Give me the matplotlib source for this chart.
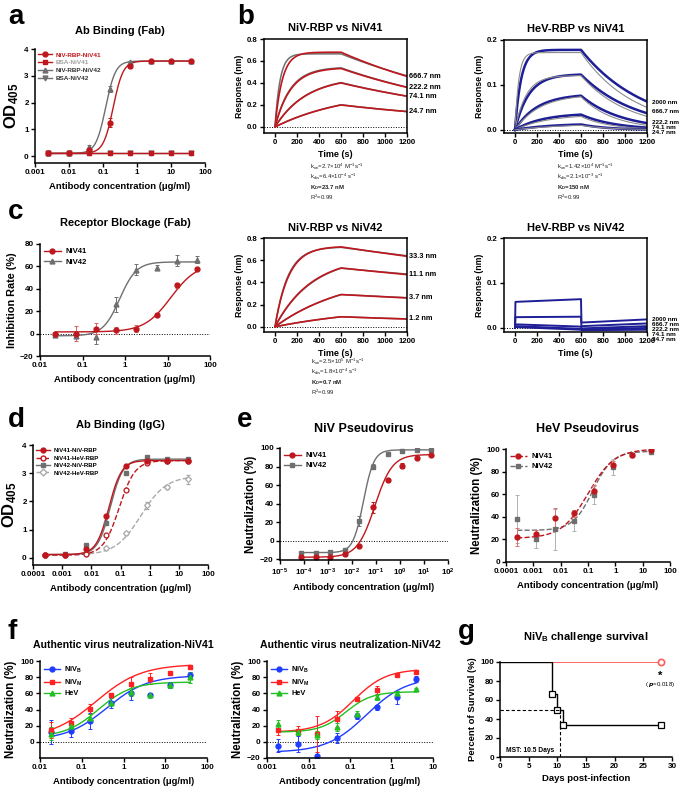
import numpy as np
import matplotlib
matplotlib.use("Agg")
import matplotlib.pyplot as plt
from matplotlib.lines import Line2D
from matplotlib.ticker import NullLocator, FormatStrFormatter

plt.rcParams["font.family"] = ["Liberation Sans", "DejaVu Sans"]
plt.rcParams["font.weight"] = "bold"
plt.rcParams["axes.labelweight"] = "bold"
plt.rcParams["mathtext.default"] = "regular"

RED = "#BE171D"
GRAY = "#6F6F6F"
LGRAY = "#A9A9A9"
NAVY = "#1E1E96"
BLUE = "#1F3CFF"
REDF = "#FF2222"
GREEN = "#22C022"
SURV_RED = "#FF5C5C"

# ---- a: Ab binding (Fab) ----
conc_a = [0.0024, 0.0098, 0.039, 0.156, 0.625, 2.5, 10, 40]
od_a_niv41 = [0.1, 0.1, 0.22, 1.25, 3.38, 3.55, 3.55, 3.55]
err_a_niv41 = [0.02, 0.02, 0.05, 0.18, 0.08, 0.05, 0.03, 0.03]
od_a_bsa41 = [0.1, 0.1, 0.1, 0.1, 0.1, 0.1, 0.1, 0.1]
od_a_niv42 = [0.1, 0.1, 0.35, 2.5, 3.5, 3.55, 3.55, 3.55]
err_a_niv42 = [0.02, 0.02, 0.08, 0.1, 0.05, 0.03, 0.03, 0.03]
od_a_bsa42 = [0.1, 0.1, 0.1, 0.1, 0.1, 0.1, 0.1, 0.1]
fit_a_niv41 = (0.1, 3.55, 0.2, 3.0)
fit_a_niv42 = (0.1, 3.55, 0.12, 3.0)

# ---- b: BLI sensorgrams (req, kobs, value at 1200 s) ----
b1_labels = ["666.7 nm", "222.2 nm", "74.1 nm", "24.7 nm"]
b1_label_y = [0.46, 0.36, 0.28, 0.14]
b1_req = [0.68, 0.54, 0.456, 0.337]
b1_kobs = [0.015, 0.007, 0.0035, 0.0015]
b1_end = [0.46, 0.36, 0.28, 0.14]
b1_fit_req = [0.665, 0.545, 0.46, 0.34]
b1_fit_kobs = [0.022, 0.0072, 0.0035, 0.0015]
b1_fit_end = [0.465, 0.362, 0.28, 0.14]

b2_labels = ["2000 nm", "666.7 nm", "222.2 nm", "74.1 nm", "24.7 nm"]
b2_label_y = [0.06, 0.04, 0.017, 0.005, -0.006]
b2_req = [0.178, 0.124, 0.08, 0.0374, 0.0144]
b2_kobs = [0.018, 0.008, 0.005, 0.004, 0.003]
b2_end = [0.063, 0.037, 0.015, 0.005, 0.001]
b2_fit_req = [0.172, 0.121, 0.079, 0.034, 0.013]
b2_fit_kobs = [0.03, 0.01, 0.0045, 0.0035, 0.0025]
b2_fit_end = [0.05, 0.03, 0.01, 0.003, 0.001]

b3_labels = ["33.3 nm", "11.1 nm", "3.7 nm", "1.2 nm"]
b3_label_y = [0.635, 0.47, 0.26, 0.075]
b3_req = [0.726, 0.635, 0.489, 0.2]
b3_kobs = [0.008, 0.003, 0.0015, 0.001]
b3_end = [0.635, 0.47, 0.26, 0.07]
b3_fit_req = [0.72, 0.64, 0.49, 0.2]
b3_fit_kobs = [0.0085, 0.0029, 0.0015, 0.001]
b3_fit_end = [0.64, 0.475, 0.262, 0.071]

# HeV-RBP vs NiV42: [start of assoc, end of assoc, start of dissoc, end]
b4_labels = ["2000 nm", "666.7 nm", "222.2 nm", "74.1 nm", "24.7 nm"]
b4_label_y = [0.019, 0.008, -0.003, -0.014, -0.025]
b4_levels = [
    [0.058, 0.064, 0.012, 0.019],
    [0.024, 0.025, 0.004, 0.010],
    [0.008, 0.003, -0.001, 0.004],
    [0.004, -0.002, -0.003, 0.000],
    [0.002, -0.004, -0.005, -0.004],
]

# ---- c: receptor blockage ----
conc_c = [0.023, 0.069, 0.21, 0.62, 1.85, 5.6, 16.7, 50]
inh_c_niv41 = [0, 0, 4.5, 3, 4.5, 17, 43, 58]
err_c_niv41 = [1.5, 7, 5, 3, 3, 1, 2.5, 1]
inh_c_niv42 = [-1, -2, -3, 26, 57, 59, 65, 66]
err_c_niv42 = [1, 1, 6, 7, 5, 2, 5, 3]
fit_c_niv41 = (1.5, 63, 12.0, 1.4)
fit_c_niv42 = (-2, 64, 0.75, 2.2)

# ---- d: Ab binding (IgG) ----
conc_d = [0.000256, 0.00128, 0.0064, 0.032, 0.16, 0.8, 4, 20]
od_d_41niv = [0.1, 0.12, 0.3, 1.47, 3.25, 3.42, 3.45, 3.45]
od_d_41hev = [0.1, 0.1, 0.15, 0.82, 2.4, 3.38, 3.45, 3.45]
od_d_42niv = [0.1, 0.15, 0.45, 1.25, 3.0, 3.58, 3.5, 3.5]
od_d_42hev = [0.1, 0.1, 0.15, 0.35, 0.87, 1.87, 2.52, 2.78]
err_d_42hev = [0.02, 0.02, 0.03, 0.05, 0.06, 0.12, 0.08, 0.15]
fit_d_41niv = (0.12, 3.45, 0.04, 2.0)
fit_d_41hev = (0.1, 3.45, 0.09, 1.6)
fit_d_42niv = (0.12, 3.5, 0.045, 2.0)
fit_d_42hev = (0.1, 2.9, 0.5, 1.0)

# ---- e: pseudovirus neutralization ----
conc_e1 = [7.6e-5, 3.05e-4, 1.22e-3, 4.9e-3, 0.0195, 0.078, 0.3125, 1.25, 5, 20]
neu_e1_niv41 = [-18, -18, -17.5, -15, -6, 36, 65, 81, 89, 92.5]
err_e1_niv41 = [1, 1, 1, 2, 1, 6, 2, 3, 1, 1]
neu_e1_niv42 = [-13, -13, -12, -10, 21, 80, 93, 97, 98, 98]
err_e1_niv42 = [1, 1, 1, 2, 5, 3, 1, 1, 1, 1]
fit_e1_niv41 = (-18, 93, 0.09, 1.2)
fit_e1_niv42 = (-13, 98, 0.03, 2.0)

conc_e2 = [0.000256, 0.00128, 0.0064, 0.032, 0.16, 0.8, 4, 20]
neu_e2_niv41 = [22, 24.5, 39, 43, 63, 86, 95, 99]
err_e2_niv41 = [8, 4, 9, 3, 5, 3, 1, 1]
neu_e2_niv42 = [38, 20, 29, 36, 59, 84, 95, 97]
err_e2_niv42 = [21, 8, 18, 9, 8, 7, 1, 1]
fit_e2_niv41 = (21, 100, 0.1, 0.9)
fit_e2_niv42 = (28, 98, 0.15, 1.2)

# ---- f: authentic virus neutralization ----
conc_f1 = [0.018, 0.055, 0.16, 0.49, 1.48, 4.4, 13.3, 40]
neu_f1_nivb = [12, 14, 26, 48, 61, 58, 70, 83]
err_f1_nivb = [15, 8, 10, 6, 9, 3, 4, 4]
neu_f1_nivm = [15, 23, 41, 58, 71, 78, 85, 92]
err_f1_nivm = [10, 6, 6, 2, 9, 7, 2, 2]
neu_f1_hev = [10, 20, 29, 48, 62, 58, 70, 80]
err_f1_hev = [8, 5, 6, 3, 5, 3, 3, 7]
fit_f1_nivb = (2, 82, 0.4, 0.9)
fit_f1_nivm = (4, 96, 0.22, 0.8)
fit_f1_hev = (6, 74, 0.25, 1.1)

conc_f2 = [0.0018, 0.0055, 0.016, 0.049, 0.148, 0.44, 1.33, 4]
neu_f2_nivb = [-5, -3, -17, 5, 32, 43, 55, 78]
err_f2_nivb = [8, 10, 12, 6, 4, 3, 8, 4]
neu_f2_nivm = [15, 14, 10, 28, 53, 64, 83, 87]
err_f2_nivm = [6, 5, 22, 10, 3, 5, 1, 2]
neu_f2_hev = [22, 12, 8, 18, 35, 55, 60, 65]
err_f2_hev = [5, 4, 5, 5, 3, 3, 3, 2]
fit_f2_nivb = (-13, 80, 0.25, 0.9)
fit_f2_nivm = (12, 90, 0.12, 1.1)
fit_f2_hev = (12, 62, 0.08, 1.4)

# ---- g: survival ----
days_ctrl = [0, 9, 10, 11, 28]
surv_ctrl = [100, 66.7, 50, 33.3, 33.3]
days_ab = [0, 28]
surv_ab = [100, 100]
mst_day = 10.5


def logistic(x, bottom, top, ec50, hill):
    return bottom + (top - bottom) / (1 + (ec50 / x) ** hill)


def sensorgram(t, req, kobs, r_end):
    r600 = req * (1 - np.exp(-kobs * 600))
    kd = np.log(r600 / r_end) / 600
    return np.where(t <= 600, req * (1 - np.exp(-kobs * t)),
                    r600 * np.exp(-kd * (t - 600)))


def box(x0, y0, x1, y1):
    return [x0 / 683, 1 - y1 / 800, (x1 - x0) / 683, (y1 - y0) / 800]


def prism(ax, full_box=False):
    for side in ["top", "right"]:
        ax.spines[side].set_visible(full_box)
    for s in ax.spines.values():
        s.set_linewidth(1.1)
    ax.tick_params(width=1.0, length=3, labelsize=5.8, pad=1.5)
    ax.set_facecolor("none")


def log_ticks(ax, ticks, labels):
    ax.set_xscale("log")
    ax.set_xticks(ticks, labels)
    ax.xaxis.set_minor_locator(NullLocator())


def title(ax, text, y, size=8):
    pos = ax.get_position()
    fig.text(pos.x0 + pos.width / 2, 1 - y / 800, text, ha="center",
             va="center", fontsize=size, fontweight="bold")


def letter(text, x, y):
    fig.text(x / 683, 1 - y / 800, text, ha="left", va="center",
             fontsize=20, fontweight="bold")


def handle(color, marker, ls="-", mfc=None):
    return Line2D([], [], color=color, marker=marker, ls=ls, lw=1.0, ms=3.5,
                  mfc=mfc if mfc else color)


def small_legend(ax, handles, labels, size=5.0, **kw):
    leg = ax.legend(handles, labels, loc="upper left", frameon=False,
                    fontsize=size, handlelength=2.2, labelspacing=0.35,
                    borderaxespad=0.1, handletextpad=0.6, **kw)
    return leg


def zero_line(ax):
    ax.axhline(0, color="black", lw=0.7, ls=(0, (1, 1.6)), zorder=0)


EB = dict(capsize=1.6, elinewidth=0.7, capthick=0.7, ls="none", ms=3.5)

fig = plt.figure(figsize=(6.83, 8.0), dpi=100)

# ================= a =================
ax = fig.add_axes(box(35, 49, 205, 163))
prism(ax)
xs = np.logspace(np.log10(0.0024), np.log10(40), 300)
ax.plot(xs, logistic(xs, *fit_a_niv42), color=GRAY, lw=1)
ax.plot(xs, logistic(xs, *fit_a_niv41), color=RED, lw=1)
ax.plot(conc_a, od_a_bsa42, color=GRAY, lw=1, marker="v", ms=3.5)
ax.plot(conc_a, od_a_bsa41, color=RED, lw=1, marker="s", ms=3.5)
ax.errorbar(conc_a, od_a_niv42, yerr=err_a_niv42, fmt="^", color=GRAY, **EB)
ax.errorbar(conc_a, od_a_niv41, yerr=err_a_niv41, fmt="o", color=RED, **EB)
log_ticks(ax, [0.001, 0.01, 0.1, 1, 10, 100],
          ["0.001", "0.01", "0.1", "1", "10", "100"])
ax.set_xlim(0.001, 100)
ax.set_ylim(-0.26, 4)
ax.set_yticks([0, 1, 2, 3, 4])
ax.set_xlabel("Antibody concentration (μg/ml)", fontsize=6.8, labelpad=4)
ax.set_ylabel("OD$_{405}$", fontsize=12, labelpad=2)
leg = small_legend(ax, [handle(RED, "o"), handle(RED, "s"), handle(GRAY, "^"),
                        handle(GRAY, "v")],
                   ["NiV-RBP-NiV41", "BSA-NiV41", "NiV-RBP-NiV42", "BSA-NiV42"],
                   size=4.6)
for txt, c in zip(leg.get_texts(), [RED, "#A0A0A0", "#333333", "#333333"]):
    txt.set_color(c)
title(ax, "Ab Binding (Fab)", 31)
letter("a", 8, 17)

# ================= b =================
t = np.linspace(0, 1200, 1201)


def bli_axes(pos, ylim, yticks, ttl, ty):
    ax = fig.add_axes(pos)
    prism(ax, full_box=True)
    ax.set_xlim(-100, 1200)
    ax.set_ylim(*ylim)
    ax.set_xticks([0, 200, 400, 600, 800, 1000, 1200])
    ax.set_yticks(yticks)
    ax.yaxis.set_major_formatter(FormatStrFormatter("%.1f"))
    ax.tick_params(labelsize=5.6)
    zero_line(ax)
    ax.set_xlabel("Time (s)", fontsize=6.5, labelpad=3)
    ax.set_ylabel("Response (nm)", fontsize=6.3, labelpad=2)
    title(ax, ttl, ty)
    return ax


ax = bli_axes(box(264, 39, 407, 133), (-0.055, 0.8), [0.0, 0.2, 0.4, 0.6, 0.8],
              "NiV-RBP vs NiV41", 28)
for i in range(len(b1_labels)):
    ax.plot(t, sensorgram(t, b1_fit_req[i], b1_fit_kobs[i], b1_fit_end[i]),
            color=GRAY, lw=1.1)
    ax.plot(t, sensorgram(t, b1_req[i], b1_kobs[i], b1_end[i]), color=RED, lw=1.2)
    ax.text(1215, b1_label_y[i], b1_labels[i], fontsize=5.3, va="center",
            clip_on=False)
letter("b", 237, 17)

ax = bli_axes(box(504, 40, 647, 133), (-0.007, 0.2), [0.0, 0.1, 0.2],
              "HeV-RBP vs NiV41", 29)
for i in range(len(b2_labels)):
    ax.plot(t, sensorgram(t, b2_req[i], b2_kobs[i], b2_end[i]), color=NAVY, lw=1.8)
    ax.plot(t, sensorgram(t, b2_fit_req[i], b2_fit_kobs[i], b2_fit_end[i]),
            color="#8C8C8C", lw=0.8)
    ax.text(1250, b2_label_y[i], b2_labels[i], fontsize=4.6, va="center",
            clip_on=False)

ax = bli_axes(box(264, 238, 407, 332), (-0.047, 0.8), [0.0, 0.2, 0.4, 0.6, 0.8],
              "NiV-RBP vs NiV42", 228)
for i in range(len(b3_labels)):
    ax.plot(t, sensorgram(t, b3_fit_req[i], b3_fit_kobs[i], b3_fit_end[i]),
            color=GRAY, lw=1.1)
    ax.plot(t, sensorgram(t, b3_req[i], b3_kobs[i], b3_end[i]), color=RED, lw=1.2)
    ax.text(1215, b3_label_y[i], b3_labels[i], fontsize=5.3, va="center",
            clip_on=False)

ax = bli_axes(box(504, 238, 647, 332), (-0.009, 0.2), [0.0, 0.1, 0.2],
              "HeV-RBP vs NiV42", 228)
for i in range(len(b4_labels)):
    lv = b4_levels[i]
    ax.plot([0, 4, 600, 604, 1200], [0, lv[0], lv[1], lv[2], lv[3]],
            color=NAVY, lw=1.4)
    ax.text(1250, b4_label_y[i], b4_labels[i], fontsize=4.6, va="center",
            clip_on=False)

kin_blocks = [
    (310, 167, ["k$_{on}$=2.7×10$^{4}$ M$^{-1}$s$^{-1}$",
                "k$_{dis}$=6.4×10$^{-4}$ s$^{-1}$", "K$_D$=23.7 nM", "R$^2$=0.99"]),
    (557, 167, ["k$_{on}$=1.42×10$^{4}$ M$^{-1}$s$^{-1}$",
                "k$_{dis}$=2.1×10$^{-3}$ s$^{-1}$", "K$_D$=150 nM", "R$^2$=0.99"]),
    (311, 362, ["k$_{on}$=2.5×10$^{5}$ M$^{-1}$s$^{-1}$",
                "k$_{dis}$=1.8×10$^{-4}$ s$^{-1}$", "K$_D$=0.7 nM", "R$^2$=0.99"]),
]
for x0, y0, lines in kin_blocks:
    for j, s in enumerate(lines):
        fig.text(x0 / 683, 1 - (y0 + j * 10.2) / 800, s, fontsize=4.3,
                 fontweight="bold" if j == 2 else "normal", va="center",
                 color="#222222")

# ================= c =================
ax = fig.add_axes(box(40, 244, 210, 356))
prism(ax)
zero_line(ax)
xs = np.logspace(np.log10(0.023), np.log10(50), 300)
ax.plot(xs, logistic(xs, *fit_c_niv42), color=GRAY, lw=1)
ax.plot(xs, logistic(xs, *fit_c_niv41), color=RED, lw=1)
ax.errorbar(conc_c, inh_c_niv42, yerr=err_c_niv42, fmt="^", color=GRAY, **EB)
ax.errorbar(conc_c, inh_c_niv41, yerr=err_c_niv41, fmt="o", color=RED,
            ecolor="#E06060", **EB)
log_ticks(ax, [0.01, 0.1, 1, 10, 100], ["0.01", "0.1", "1", "10", "100"])
ax.set_xlim(0.01, 100)
ax.set_ylim(-20, 80)
ax.set_yticks([-20, 0, 20, 40, 60, 80])
ax.set_xlabel("Antibody concentration (μg/ml)", fontsize=6.8, labelpad=4)
ax.set_ylabel("Inhibition Rate (%)", fontsize=7.8, labelpad=2)
small_legend(ax, [handle(RED, "o"), handle(GRAY, "^")], ["NiV41", "NiV42"],
             size=5.6)
title(ax, "Receptor Blockage (Fab)", 223)
letter("c", 8, 212)

# ================= d =================
ax = fig.add_axes(box(33, 445, 208, 565))
prism(ax)
xs = np.logspace(np.log10(0.000256), np.log10(20), 300)
ax.plot(xs, logistic(xs, *fit_d_42hev), color=LGRAY, lw=1, ls="--")
ax.plot(xs, logistic(xs, *fit_d_41hev), color=RED, lw=1, ls="--")
ax.plot(xs, logistic(xs, *fit_d_42niv), color=GRAY, lw=1)
ax.plot(xs, logistic(xs, *fit_d_41niv), color=RED, lw=1)
ax.errorbar(conc_d, od_d_42hev, yerr=err_d_42hev, fmt="D", color=LGRAY,
            mfc="white", mew=0.9, **dict(EB, ms=3))
ax.errorbar(conc_d, od_d_42niv, yerr=[0.03] * 8, fmt="s", color=GRAY, **EB)
ax.errorbar(conc_d, od_d_41hev, yerr=[0.03] * 8, fmt="o", color=RED,
            mfc="white", mew=0.9, **EB)
ax.errorbar(conc_d, od_d_41niv, yerr=[0.03] * 8, fmt="o", color=RED, **EB)
log_ticks(ax, [0.0001, 0.001, 0.01, 0.1, 1, 10, 100],
          ["0.0001", "0.001", "0.01", "0.1", "1", "10", "100"])
ax.set_xlim(0.0001, 100)
ax.set_ylim(-0.25, 4)
ax.set_yticks([0, 1, 2, 3, 4])
ax.set_xlabel("Antibody concentration (μg/ml)", fontsize=6.8, labelpad=4)
ax.set_ylabel("OD$_{405}$", fontsize=12, labelpad=2)
small_legend(ax, [handle(RED, "o"), handle(RED, "o", "--", "white"),
                  handle(GRAY, "s"), handle(LGRAY, "D", "--", "white")],
             ["NiV41-NiV-RBP", "NiV41-HeV-RBP", "NiV42-NiV-RBP", "NiV42-HeV-RBP"],
             size=4.4)
title(ax, "Ab Binding (IgG)", 425)
letter("d", 8, 420)

# ================= e =================
ax = fig.add_axes(box(280, 448, 448, 560))
prism(ax)
zero_line(ax)
xs = np.logspace(np.log10(7.6e-5), np.log10(20), 300)
ax.plot(xs, logistic(xs, *fit_e1_niv42), color=GRAY, lw=1)
ax.plot(xs, logistic(xs, *fit_e1_niv41), color=RED, lw=1)
ax.errorbar(conc_e1, neu_e1_niv42, yerr=err_e1_niv42, fmt="s", color=GRAY, **EB)
ax.errorbar(conc_e1, neu_e1_niv41, yerr=err_e1_niv41, fmt="o", color=RED, **EB)
log_ticks(ax, [1e-5, 1e-4, 1e-3, 1e-2, 1e-1, 1, 10, 100],
          ["10$^{-5}$", "10$^{-4}$", "10$^{-3}$", "10$^{-2}$", "10$^{-1}$",
           "10$^{0}$", "10$^{1}$", "10$^{2}$"])
ax.set_xlim(1e-5, 100)
ax.set_ylim(-21, 100)
ax.set_yticks([-20, 0, 20, 40, 60, 80, 100])
ax.set_xlabel("Antibody concentration (μg/ml)", fontsize=6.8, labelpad=4)
ax.set_ylabel("Neutralization (%)", fontsize=8.3, labelpad=2)
small_legend(ax, [handle(RED, "o"), handle(GRAY, "s")], ["NiV41", "NiV42"],
             size=5.6)
title(ax, "NiV Pseudovirus", 429, size=9)
letter("e", 237, 420)

ax = fig.add_axes(box(506, 449, 670, 562))
prism(ax)
xs = np.logspace(np.log10(0.000256), np.log10(20), 300)
ax.plot(xs, logistic(xs, *fit_e2_niv42), color=GRAY, lw=1, ls="--")
ax.plot(xs, logistic(xs, *fit_e2_niv41), color=RED, lw=1, ls="--")
ax.errorbar(conc_e2, neu_e2_niv42, yerr=err_e2_niv42, fmt="s", color=GRAY,
            ecolor="#B0B0B0", **EB)
ax.errorbar(conc_e2, neu_e2_niv41, yerr=err_e2_niv41, fmt="o", color=RED,
            ecolor="#E07070", **EB)
log_ticks(ax, [0.0001, 0.001, 0.01, 0.1, 1, 10, 100],
          ["0.0001", "0.001", "0.01", "0.1", "1", "10", "100"])
ax.set_xlim(0.0001, 100)
ax.set_ylim(0, 100)
ax.set_yticks([0, 20, 40, 60, 80, 100])
ax.set_xlabel("Antibody concentration (μg/ml)", fontsize=6.8, labelpad=4)
ax.set_ylabel("Neutralization (%)", fontsize=8.3, labelpad=2)
small_legend(ax, [handle(RED, "o", "--"), handle(GRAY, "s", "--")],
             ["NiV41", "NiV42"], size=5.6)
title(ax, "HeV Pseudovirus", 429, size=9)

# ================= f =================
f_names = ["NiV$_B$", "NiV$_M$", "HeV"]
f_colors = [BLUE, REDF, GREEN]
f_markers = ["o", "s", "^"]

ax = fig.add_axes(box(40, 661, 207, 758))
prism(ax)
zero_line(ax)
xs = np.logspace(np.log10(0.018), np.log10(40), 300)
for fit, vals, err, c, m in zip([fit_f1_nivb, fit_f1_nivm, fit_f1_hev],
                                [neu_f1_nivb, neu_f1_nivm, neu_f1_hev],
                                [err_f1_nivb, err_f1_nivm, err_f1_hev],
                                f_colors, f_markers):
    ax.plot(xs, logistic(xs, *fit), color=c, lw=1)
    ax.errorbar(conc_f1, vals, yerr=err, fmt=m, color=c, **EB)
log_ticks(ax, [0.01, 0.1, 1, 10, 100], ["0.01", "0.1", "1", "10", "100"])
ax.set_xlim(0.01, 100)
ax.set_ylim(-20, 100)
ax.set_yticks([0, 20, 40, 60, 80, 100])
ax.set_xlabel("Antibody concentration (μg/ml)", fontsize=6.8, labelpad=4)
ax.set_ylabel("Neutralization (%)", fontsize=8.3, labelpad=2)
small_legend(ax, [handle(c, m) for c, m in zip(f_colors, f_markers)], f_names,
             size=5.3)
title(ax, "Authentic virus neutralization-NiV41", 645, size=7.6)
letter("f", 8, 632)

ax = fig.add_axes(box(267, 661, 433, 758))
prism(ax)
zero_line(ax)
xs = np.logspace(np.log10(0.0018), np.log10(4), 300)
for fit, vals, err, c, m in zip([fit_f2_nivb, fit_f2_nivm, fit_f2_hev],
                                [neu_f2_nivb, neu_f2_nivm, neu_f2_hev],
                                [err_f2_nivb, err_f2_nivm, err_f2_hev],
                                f_colors, f_markers):
    ax.plot(xs, logistic(xs, *fit), color=c, lw=1)
    ax.errorbar(conc_f2, vals, yerr=err, fmt=m, color=c, **EB)
log_ticks(ax, [0.001, 0.01, 0.1, 1, 10], ["0.001", "0.01", "0.1", "1", "10"])
ax.set_xlim(0.001, 10)
ax.set_ylim(-20, 100)
ax.set_yticks([-20, 0, 20, 40, 60, 80, 100])
ax.set_xlabel("Antibody concentration (μg/ml)", fontsize=6.8, labelpad=4)
ax.set_ylabel("Neutralization (%)", fontsize=8.3, labelpad=2)
small_legend(ax, [handle(c, m) for c, m in zip(f_colors, f_markers)], f_names,
             size=5.3)
title(ax, "Authentic virus neutralization-NiV42", 645, size=7.6)

# ================= g =================
ax = fig.add_axes(box(500, 662, 672, 757))
prism(ax)
ax.step(days_ab, surv_ab, where="post", color=SURV_RED, lw=1.3)
ax.step(days_ctrl, surv_ctrl, where="post", color="black", lw=1.0)
ax.plot(days_ctrl[1:], surv_ctrl[1:], ls="none", marker="s", ms=4.5,
        mfc="white", mec="black", mew=0.9)
ax.plot(days_ab[-1:], surv_ab[-1:], ls="none", marker="o", ms=4.5,
        mfc="white", mec=SURV_RED, mew=1.2, clip_on=False)
ax.plot([0, mst_day], [50, 50], color="black", lw=0.8, ls=(0, (3, 2)))
ax.plot([mst_day, mst_day], [0, 50], color="black", lw=0.8, ls=(0, (3, 2)))
ax.text(28, 91, "*", ha="center", va="top", fontsize=8)
ax.text(28, 76, "( $\\it{p}$=0.018)", ha="center", va="center", fontsize=4.3,
        fontweight="normal")
ax.text(1, 7, "MST: 10.5 Days", fontsize=4.8, va="center")
ax.set_xlim(0, 30)
ax.set_ylim(0, 100)
ax.set_xticks([0, 5, 10, 15, 20, 25, 30])
ax.set_yticks([0, 20, 40, 60, 80, 100])
ax.set_xlabel("Days post-infection", fontsize=6.8, labelpad=3)
ax.set_ylabel("Percent of Survival (%)", fontsize=6.8, labelpad=2)
title(ax, "NiV$_B$ challenge survival", 637, size=8)
letter("g", 458, 632)

fig.savefig("out.png", dpi=100, facecolor="white")
